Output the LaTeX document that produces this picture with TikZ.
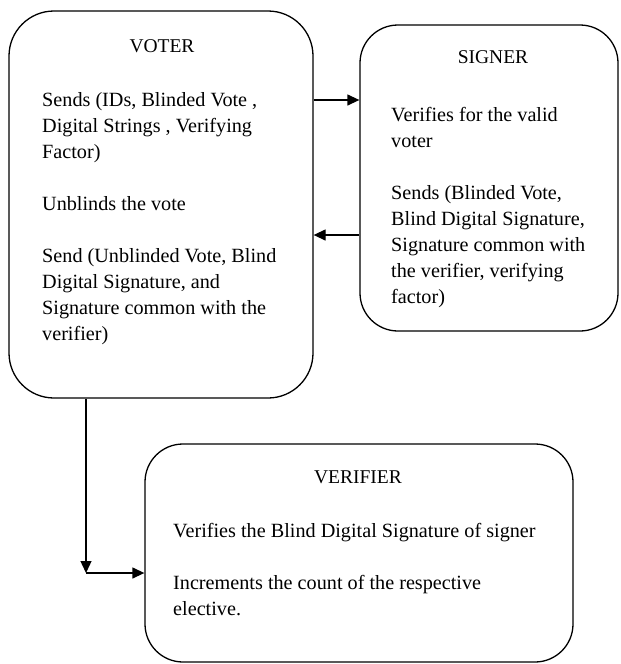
\documentclass[tikz,border=0pt]{standalone}
\usepackage{fontspec}
\setmainfont{Liberation Serif}
\usetikzlibrary{arrows.meta}
\begin{document}
\begin{tikzpicture}[x=1pt,y=-1pt,
  party/.style={draw, line width=1.3pt, rounded corners=#1, inner sep=0pt},
  party/.default=40pt,
  title/.style={anchor=base, inner sep=0pt, font=\fontsize{19.5}{26}\selectfont},
  body/.style={anchor=north west, inner sep=0pt, align=left, font=\fontsize{20.2}{26}\selectfont},
  flow/.style={line width=1.3pt, -{Triangle[length=12pt,width=11pt]}}]
\useasboundingbox (0,0) rectangle (621,664);

% the three parties
\node[party=45pt, minimum width=304pt, minimum height=387pt] (voter) at (161,204.5) {};
\node[party=38pt, minimum width=258pt, minimum height=306pt] (signer) at (489,178) {};
\node[party=38pt, minimum width=428pt, minimum height=218pt] (verifier) at (359,553) {};

% voter texts
\node[title] (votertitle) at (162,52) {VOTER};
\node[body] (voterbody) at (42,92) {Sends (IDs, Blinded Vote ,\\
Digital Strings , Verifying\\
Factor)\\[26pt]
Unblinds the vote\\[26pt]
Send (Unblinded Vote, Blind\\
Digital Signature, and\\
Signature common with the\\
verifier)};

% signer texts
\node[title] (signertitle) at (493,63) {SIGNER};
\node[body] (signerbody) at (391,107) {Verifies for the valid\\
voter\\[26pt]
Sends (Blinded Vote,\\
Blind Digital Signature,\\
Signature common with\\
the verifier, verifying\\
factor)};

% verifier texts
\node[title] (verifiertitle) at (358,483) {VERIFIER};
\node[body] (verifierbody) at (173,523) {Verifies the Blind Digital Signature of signer\\[26pt]
Increments the count of the respective\\
elective.};

% messages between the parties
\coordinate (turn) at (86,573);
\draw[flow] (voter.east |- 0,100) -- (signer.west |- 0,100);
\draw[flow] (signer.west |- 0,235) -- (voter.east |- 0,235);
\draw[flow] (voter.south -| turn) -- (turn);
\draw[flow] (turn) -- (verifier.west |- turn);
\end{tikzpicture}
\end{document}
